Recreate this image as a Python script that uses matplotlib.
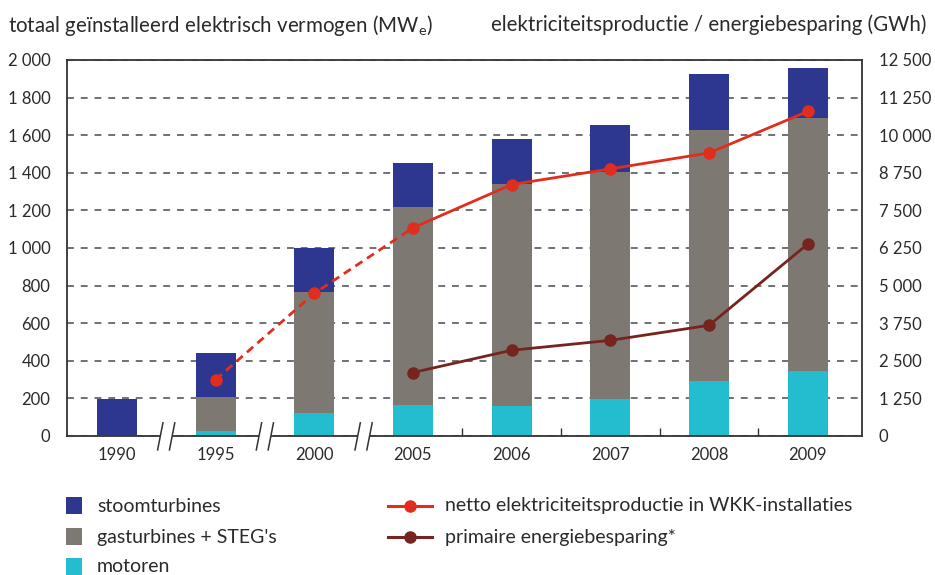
import matplotlib
matplotlib.use('Agg')
import matplotlib.pyplot as plt
import numpy as np
from matplotlib.patches import Rectangle
from matplotlib.lines import Line2D
import matplotlib.transforms as mtransforms
from matplotlib.ticker import FuncFormatter

plt.rcParams['font.family'] = ['Lato', 'DejaVu Sans']
plt.rcParams['mathtext.fontset'] = 'custom'
plt.rcParams['mathtext.rm'] = 'Lato'

# ---- data ----
years = ['1990', '1995', '2000', '2005', '2006', '2007', '2008', '2009']
motoren = [5, 29, 121, 164, 157, 196, 295, 348]
gasturbines = [0, 177, 644, 1053, 1186, 1207, 1335, 1341]
stoomturbines = [194, 238, 235, 236, 239, 249, 293, 271]
netto_productie = [np.nan, 1870, 4740, 6920, 8360, 8880, 9410, 10790]
energiebesparing = [np.nan, np.nan, np.nan, 2110, 2850, 3180, 3680, 6380]

left_ticks = list(range(0, 2001, 200))
right_ticks = list(range(0, 12501, 1250))

C_STOOM = '#2E3790'
C_GAS = '#7D7872'
C_MOT = '#23BDCF'
C_RED = '#E12D1E'
C_DRED = '#752420'
TXT = '#2a2a2a'

fig = plt.figure(figsize=(9.35, 5.75), dpi=100)
ax = fig.add_axes([67/935, 1-436/575, (862-67)/935, (436-60)/575])

x = np.arange(len(years))
w = 0.405
mot = np.array(motoren)
gas = np.array(gasturbines)
sto = np.array(stoomturbines)
ax.bar(x, mot, w, color=C_MOT, zorder=2, linewidth=0)
ax.bar(x, gas, w, bottom=mot, color=C_GAS, zorder=2, linewidth=0)
ax.bar(x, sto, w, bottom=mot+gas, color=C_STOOM, zorder=2, linewidth=0)

ax.set_xlim(-0.505, 7.55)
ax.set_ylim(0, 2000)
ax.set_yticks(left_ticks)
fmt = FuncFormatter(lambda v, p: f'{int(v):,}'.replace(',', ' '))
ax.yaxis.set_major_formatter(fmt)
ax.set_axisbelow(True)
ax.yaxis.grid(True, linestyle=(0, (4.5, 4.5)), color='#4a4a4a', linewidth=1.1, zorder=0)
ax.set_xticks(x)
ax.set_xticklabels(years)
ax.set_xticks([3.5, 4.5, 5.5, 6.5], minor=True)
ax.tick_params(axis='x', which='major', length=0, pad=8, labelsize=12, colors=TXT)
ax.tick_params(axis='x', which='minor', length=6, direction='in', width=1, color='#333333')
ax.tick_params(axis='y', length=0, pad=12, labelsize=12, colors=TXT)
for s in ax.spines.values():
    s.set_color('#333333')
    s.set_linewidth(1.3)

# right axis
ax2 = ax.twinx()
ax2.set_ylim(0, 12500)
ax2.set_yticks(right_ticks)
ax2.yaxis.set_major_formatter(fmt)
ax2.tick_params(axis='y', length=0, pad=12, labelsize=12, colors=TXT)
for s in ax2.spines.values():
    s.set_visible(False)

net = np.array(netto_productie, dtype=float)
ax2.plot(x[1:4], net[1:4], color=C_RED, linewidth=2.0, linestyle=(0, (3, 2)), zorder=3)
ax2.plot(x[3:], net[3:], color=C_RED, linewidth=2.0, zorder=3)
ax2.plot(x, net, linestyle='none', marker='o', markersize=8, color=C_RED, zorder=4)
ax2.plot(x, energiebesparing, color=C_DRED, linewidth=2.0, marker='o', markersize=8, zorder=4)

# axis breaks
trans = mtransforms.blended_transform_factory(ax.transData, ax.transAxes)
for b in [0.5, 1.5, 2.5]:
    ax.add_patch(Rectangle((b - 0.06, -0.01), 0.12, 0.02, transform=trans,
                           facecolor='white', edgecolor='none', clip_on=False, zorder=5))
    for off in [-0.06, 0.06]:
        ax.plot([b + off - 0.027, b + off + 0.027], [-0.037, 0.035], transform=trans,
                color='#333333', linewidth=1.1, clip_on=False, zorder=6)

# titles
fig.text(8/935, 1-25/575, 'totaal geïnstalleerd elektrisch vermogen (MW$_\\mathrm{e}$)',
         fontsize=14.8, color=TXT, va='center', ha='left')
fig.text(926/935, 1-25/575, 'elektriciteitsproductie / energiebesparing (GWh)',
         fontsize=14.8, color=TXT, va='center', ha='right')

# legend (manual)
rows = [506, 537, 567]
labels_bar = ['stoomturbines', "gasturbines + STEG's", 'motoren']
cols_bar = [C_STOOM, C_GAS, C_MOT]
for yy, lab, c in zip(rows, labels_bar, cols_bar):
    fig.patches.append(Rectangle((66/935, 1-(yy+8)/575), 16/935, 17/575,
                                 transform=fig.transFigure, facecolor=c, edgecolor='none'))
    fig.text(97/935, 1-yy/575, lab, fontsize=14, color=TXT, va='center', ha='left')

labels_line = ['netto elektriciteitsproductie in WKK-installaties', 'primaire energiebesparing*']
cols_line = [C_RED, C_DRED]
for yy, lab, c in zip(rows[:2], labels_line, cols_line):
    fig.lines.append(Line2D([388/935, 432/935], [1-yy/575]*2, transform=fig.transFigure,
                            color=c, linewidth=2.2, marker=None))
    fig.lines.append(Line2D([410/935], [1-yy/575], transform=fig.transFigure,
                            color=c, marker='o', markersize=8, linestyle='none'))
    fig.text(445/935, 1-yy/575, lab, fontsize=14, color=TXT, va='center', ha='left')

fig.savefig('out.png', dpi=100)
